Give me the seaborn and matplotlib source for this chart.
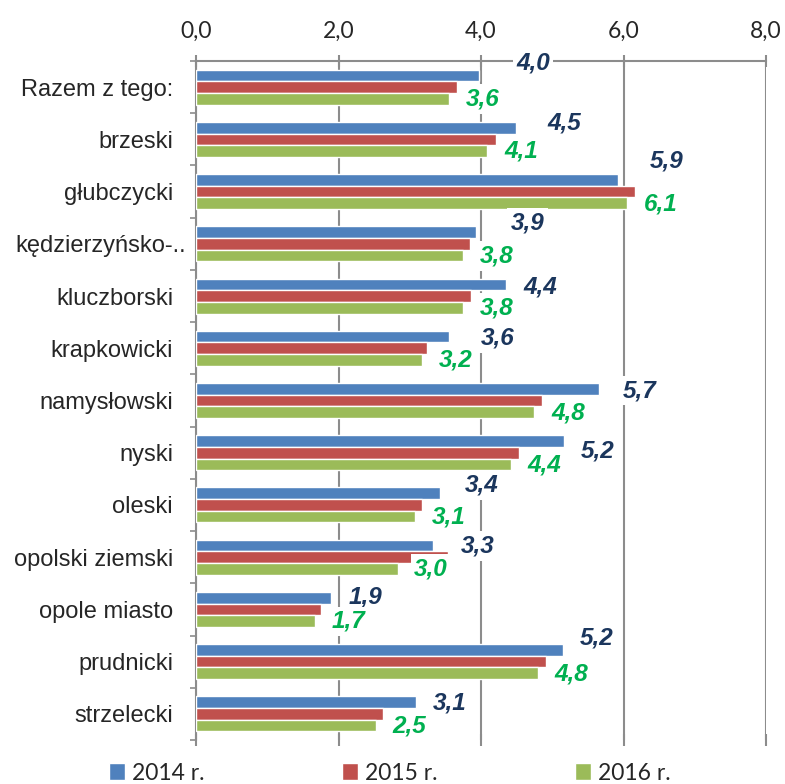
import numpy as np
import pandas as pd
import matplotlib
matplotlib.use('Agg')
import matplotlib.pyplot as plt
import matplotlib.transforms as mtransforms
from matplotlib.ticker import MultipleLocator, FuncFormatter
import seaborn as sns

# dane
powiaty = ['Razem z tego:', 'brzeski', 'głubczycki', 'kędzierzyńsko-..', 'kluczborski',
           'krapkowicki', 'namysłowski', 'nyski', 'oleski', 'opolski ziemski',
           'opole miasto', 'prudnicki', 'strzelecki']
lata = ['2014 r.', '2015 r.', '2016 r.']
v2014 = [3.97, 4.49, 5.92, 3.93, 4.35, 3.55, 5.66, 5.17, 3.42, 3.32, 1.89, 5.15, 3.09]
v2015 = [3.66, 4.21, 6.16, 3.85, 3.86, 3.24, 4.85, 4.53, 3.17, 3.54, 1.75, 4.91, 2.62]
v2016 = [3.55, 4.09, 6.05, 3.75, 3.75, 3.17, 4.75, 4.42, 3.07, 2.83, 1.67, 4.80, 2.52]
etyk2014 = ['4,0', '4,5', '5,9', '3,9', '4,4', '3,6', '5,7', '5,2', '3,4', '3,3', '1,9', '5,2', '3,1']
etyk2016 = ['3,6', '4,1', '6,1', '3,8', '3,8', '3,2', '4,8', '4,4', '3,1', '3,0', '1,7', '4,8', '2,5']

# przesuniecia etykiet 2014 (wzgledem konca slupka / srodka kategorii)
dx2014 = [0.76, 0.68, 0.68, 0.72, 0.48, 0.69, 0.57, 0.47, 0.59, 0.63, 0.49, 0.47, 0.47]
dy2014 = [-0.46, -0.31, -0.58, -0.40, -0.18, -0.19, -0.19, -0.04, -0.38, -0.21, -0.23, -0.46, -0.21]

df = pd.DataFrame({
    'powiat': powiaty * 3,
    'rok': [lata[0]] * 13 + [lata[1]] * 13 + [lata[2]] * 13,
    'wartosc': v2014 + v2015 + v2016,
})

kolory = ['#4F81BD', '#C0504D', '#9BBB59']
szary = '#8C8C8C'

sns.set_style('white')
fig = plt.figure(figsize=(7.85, 7.84), dpi=100)
ax = fig.add_axes([196 / 785, 1 - 740 / 784, 570 / 785, 679 / 784])

sns.barplot(data=df, x='wartosc', y='powiat', hue='rok', orient='h',
            palette=kolory, saturation=1, width=0.67, ax=ax, zorder=3)

ax.set_xlim(0, 8)
ax.set_ylim(12.5, -0.5)
ax.set_xlabel('')
ax.set_ylabel('')

# os X na gorze
ax.xaxis.set_major_locator(MultipleLocator(2))
ax.xaxis.set_major_formatter(FuncFormatter(lambda v, p: f'{v:.1f}'.replace('.', ',')))
ax.tick_params(axis='x', top=True, bottom=True, labeltop=True, labelbottom=False,
               direction='inout', length=9, width=1.5, color=szary, pad=9.5)
for lab in ax.get_xticklabels():
    lab.set_fontfamily('Lato')
    lab.set_fontsize(16.5)
ax.grid(axis='x', color=szary, linewidth=1.5, zorder=0)
ax.set_axisbelow(True)

# os Y
ax.yaxis.set_minor_locator(MultipleLocator(1, offset=0.5))
ax.tick_params(axis='y', which='major', length=0, pad=16.5)
ax.tick_params(axis='y', which='minor', left=True, direction='out', length=4.5, width=1.2, color=szary)
for lab in ax.get_yticklabels():
    lab.set_fontfamily('Liberation Sans')
    lab.set_fontsize(17)
# obciety napis w Excelu lezy blizej osi
dluga = ax.get_yticklabels()[3]
dluga.set_transform(dluga.get_transform() + mtransforms.ScaledTranslation(13 / 100, 0, fig.dpi_scale_trans))

for s in ['right', 'bottom']:
    ax.spines[s].set_visible(False)
for s in ['top', 'left']:
    ax.spines[s].set_color(szary)
    ax.spines[s].set_linewidth(1.5)

# etykiety danych
for i in range(len(powiaty)):
    ax.text(v2014[i] + dx2014[i], i + dy2014[i], etyk2014[i], ha='center', va='center',
            fontsize=17.5, fontweight='bold', fontstyle='italic', family='Liberation Sans',
            color='#1B365D', zorder=6, clip_on=False,
            bbox=dict(facecolor='white', edgecolor='none', pad=2.5))
    ax.text(v2016[i] + 0.47, i + 0.23, etyk2016[i], ha='center', va='center',
            fontsize=17.5, fontweight='bold', fontstyle='italic', family='Liberation Sans',
            color='#00B050', zorder=6, clip_on=False,
            bbox=dict(facecolor='white', edgecolor='none', pad=2.5))

# legenda
uchwyty, nazwy = ax.get_legend_handles_labels()
ax.legend_.remove()
fig.legend(uchwyty, nazwy, loc='center', bbox_to_anchor=(0.497, 0.014), ncol=3,
           frameon=False, prop={'family': 'Lato', 'size': 16.5}, borderpad=0.2,
           handlelength=0.7, handleheight=0.7, handletextpad=0.3, columnspacing=6.0)

fig.savefig('out.png', dpi=100)
